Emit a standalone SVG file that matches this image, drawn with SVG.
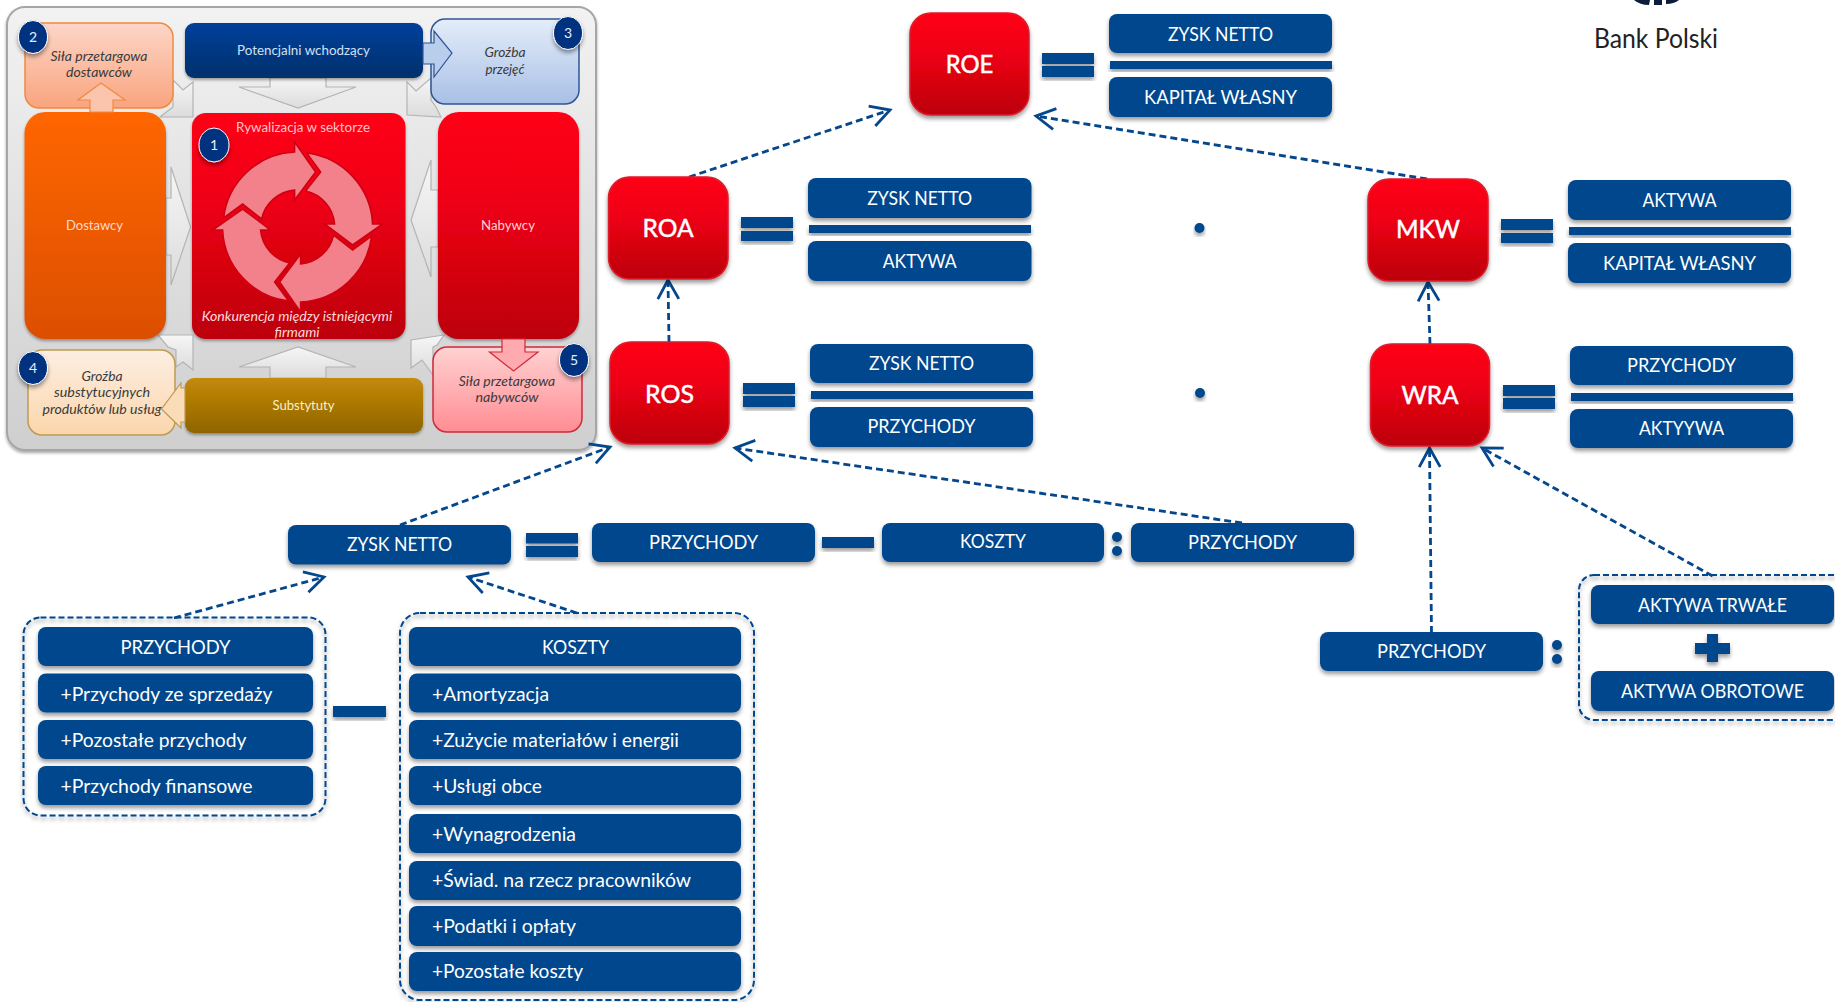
<svg xmlns="http://www.w3.org/2000/svg" width="1835" height="1002" viewBox="0 0 1835 1002">
<style>
text{font-family:"Lato","Liberation Sans",sans-serif;}
.b{fill:#04478d;filter:url(#sh);}
.bar{fill:#04478d;filter:url(#sh);}
.t{fill:#fff;font-size:20px;text-anchor:middle;}
.l{fill:#fff;font-size:20px;text-anchor:start;}
.k{fill:#fff;stroke:#fff;stroke-width:.5;font-size:25px;font-weight:400;text-anchor:middle;}
.r{fill:url(#red);stroke:#dc1c2c;stroke-width:1.5;filter:url(#sh);}
.c{fill:none;stroke:#04478d;stroke-width:2.8;stroke-dasharray:7 4;marker-end:url(#open);}
.g{fill:none;stroke:#04478d;stroke-width:2;stroke-dasharray:6 3;filter:url(#sh);}
.p{font-size:13.5px;text-anchor:middle;fill:#ffd9c8;}
.i{font-size:13.5px;text-anchor:middle;fill:#3a3a3a;font-style:italic;}
.ga{fill:url(#gray);stroke:#b4b4b4;stroke-width:1.2;}
.n{fill:#00307f;stroke:#fff;stroke-width:1;filter:url(#sh);}
.nt{fill:#e8eef8;font-size:14px;text-anchor:middle;}
.cy{fill:#f2818c;stroke:#d00012;stroke-width:1.6;}
.pb{filter:url(#sh2);}
#przychody-group,#koszty-group,#minus,#wra-denominator{transform:translateY(-1px);}
#ros-formula .t,#wra-formula .t,#zysk-row .t{transform:translateY(-1px);}
</style>
<defs>
<filter id="sh" x="-15%" y="-25%" width="130%" height="160%"><feDropShadow dx="0" dy="3" stdDeviation="2" flood-color="#000" flood-opacity=".4"/></filter>
<filter id="sh2" x="-10%" y="-10%" width="120%" height="120%"><feDropShadow dx="0" dy="2" stdDeviation="1.5" flood-color="#000" flood-opacity=".35"/></filter>
<linearGradient id="red" x1="0" y1="0" x2="0" y2="1"><stop offset="0" stop-color="#ff0617"/><stop offset=".4" stop-color="#ee0414"/><stop offset="1" stop-color="#bc000b"/></linearGradient>
<linearGradient id="or" x1="0" y1="0" x2="0" y2="1"><stop offset="0" stop-color="#ff6600"/><stop offset="1" stop-color="#dc4f00"/></linearGradient>
<linearGradient id="pan" x1="0" y1="0" x2="0" y2="1"><stop offset="0" stop-color="#f2f2f2"/><stop offset="1" stop-color="#cfcfcf"/></linearGradient>
<linearGradient id="gray" x1="0" y1="0" x2="0" y2="1"><stop offset="0" stop-color="#f6f6f6"/><stop offset="1" stop-color="#dcdcdc"/></linearGradient>
<linearGradient id="navy" x1="0" y1="0" x2="0" y2="1"><stop offset="0" stop-color="#00409c"/><stop offset="1" stop-color="#00306c"/></linearGradient>
<linearGradient id="gold" x1="0" y1="0" x2="0" y2="1"><stop offset="0" stop-color="#c48a08"/><stop offset="1" stop-color="#8f6400"/></linearGradient>
<linearGradient id="b2" x1="0" y1="0" x2="0" y2="1"><stop offset="0" stop-color="#fdd6c8"/><stop offset="1" stop-color="#f9a47e"/></linearGradient>
<linearGradient id="b3" x1="0" y1="0" x2="0" y2="1"><stop offset="0" stop-color="#e4edf9"/><stop offset="1" stop-color="#a8c0e6"/></linearGradient>
<linearGradient id="b4" x1="0" y1="0" x2="0" y2="1"><stop offset="0" stop-color="#fdeee2"/><stop offset="1" stop-color="#fbd6ac"/></linearGradient>
<linearGradient id="b5" x1="0" y1="0" x2="0" y2="1"><stop offset="0" stop-color="#ffd2d2"/><stop offset="1" stop-color="#ff8d94"/></linearGradient>
<marker id="open" markerUnits="userSpaceOnUse" viewBox="-24 -14 28 28" refX="0" refY="0" markerWidth="28" markerHeight="28" orient="auto"><path d="M-19,-10.5 L0,0 L-19,10.5" fill="none" stroke="#04478d" stroke-width="2.8"/></marker>
</defs>
<rect width="1835" height="1002" fill="#fff"/>

<g id="panel">
<rect x="7" y="7" width="589" height="443" rx="18" fill="url(#pan)" stroke="#a6a6a6" stroke-width="2" class="pb"/>
<g id="panel-arrows">
<polygon class="ga" points="270,78 326,78 326,87 356,87 298,108 239,87 270,87"/>
<polygon class="ga" points="270,378 326,378 326,367 356,367 298,347 239,367 270,367"/>
<polygon class="ga" points="166,198 171,198 171,167 190.6,227 171,285 171,255 166,255"/>
<polygon class="ga" points="438,190 431,190 431,160 411,220 431,277 431,247 438,247"/>
<polygon class="ga" points="193,82 193,117 160,117 173,107 173,80 183,90"/>
<polygon class="ga" points="407,82 416,91 431,78 431,100 436,107 441,117 407,115"/>
<polygon class="ga" points="158,335 193,335 193,370 183,362 176,367 176,350 168,347"/>
<polygon class="ga" points="444,335 411,340 411,368 422,360 433,375 433,347 437,345"/>
</g>
<g id="box2"><rect x="25" y="23" width="148" height="85" rx="14" fill="url(#b2)" stroke="#f08a40" stroke-width="1.5"/>
<text class="i" x="99" y="61" textLength="97" lengthAdjust="spacingAndGlyphs">Siła przetargowa</text><text class="i" x="99" y="77" textLength="66" lengthAdjust="spacingAndGlyphs">dostawców</text></g>
<g id="box3"><rect x="431" y="19" width="148" height="85" rx="14" fill="url(#b3)" stroke="#2f5596" stroke-width="1.5"/>
<text class="i" x="505" y="57" textLength="41" lengthAdjust="spacingAndGlyphs">Groźba</text><text class="i" x="505" y="74" textLength="39" lengthAdjust="spacingAndGlyphs">przejęć</text></g>
<g id="box4"><rect x="28" y="350" width="147" height="85" rx="14" fill="url(#b4)" stroke="#bf9a50" stroke-width="1.5"/>
<text class="i" x="102" y="381" textLength="41" lengthAdjust="spacingAndGlyphs">Groźba</text><text class="i" x="102" y="397" textLength="96" lengthAdjust="spacingAndGlyphs">substytucyjnych</text><text class="i" x="102" y="414" textLength="119" lengthAdjust="spacingAndGlyphs">produktów lub usług</text></g>
<g id="box5"><rect x="433" y="347" width="149" height="85" rx="14" fill="url(#b5)" stroke="#d02a3a" stroke-width="1.5"/>
<text class="i" x="507" y="386" textLength="96.5" lengthAdjust="spacingAndGlyphs">Siła przetargowa</text><text class="i" x="507" y="402" textLength="63" lengthAdjust="spacingAndGlyphs">nabywców</text></g>
<g id="potencjalni"><rect x="185" y="23" width="238" height="55" rx="9" fill="url(#navy)" class="pb"/>
<text class="p" style="fill:#cfe0f5" x="303.5" y="55" textLength="133" lengthAdjust="spacingAndGlyphs">Potencjalni wchodzący</text></g>
<polygon points="423,43 434,43 434,31 452,53 434,77 434,64 423,64" fill="#b9cdec" stroke="#2f5596" stroke-width="1.2"/>
<g id="dostawcy"><rect x="24.5" y="112" width="141.5" height="227" rx="21" fill="url(#or)" class="pb"/>
<text class="p" x="94.5" y="230" textLength="57" lengthAdjust="spacingAndGlyphs">Dostawcy</text></g>
<polygon points="90,112 90,100 78,100 101,83 125,100 113,100 113,112" fill="#fbc4ac" stroke="#f08a40" stroke-width="1.2"/>
<g id="rywalizacja"><rect x="192" y="113" width="213.5" height="226" rx="14" fill="url(#red)" class="pb"/>
<text class="p" style="fill:#ffc4c4" x="303" y="132" textLength="134" lengthAdjust="spacingAndGlyphs">Rywalizacja w sektorze</text>
<g transform="translate(297.6 227)">
<path id="cy1" class="cy" d="M-74,-9 A75,75 0 0 1 -3,-75 L-3,-85 L18,-55 L-3,-27 L-3,-37 A37,37 0 0 0 -36,-8 L-55,-23 Z"/>
<path class="cy" transform="rotate(90)" d="M-74,-9 A75,75 0 0 1 -3,-75 L-3,-85 L18,-55 L-3,-27 L-3,-37 A37,37 0 0 0 -36,-8 L-55,-23 Z"/>
<path class="cy" transform="rotate(180)" d="M-74,-9 A75,75 0 0 1 -3,-75 L-3,-85 L18,-55 L-3,-27 L-3,-37 A37,37 0 0 0 -36,-8 L-55,-23 Z"/>
<path class="cy" transform="rotate(270)" d="M-74,-9 A75,75 0 0 1 -3,-75 L-3,-85 L18,-55 L-3,-27 L-3,-37 A37,37 0 0 0 -36,-8 L-55,-23 Z"/>
</g>
<text class="p" style="fill:#ffd8d8;font-style:italic" x="297" y="321" textLength="190.6" lengthAdjust="spacingAndGlyphs">Konkurencja między istniejącymi</text>
<text class="p" style="fill:#ffd8d8;font-style:italic" x="297" y="337" textLength="45" lengthAdjust="spacingAndGlyphs">firmami</text></g>
<g id="nabywcy"><rect x="438" y="112" width="141" height="227" rx="21" fill="url(#red)" class="pb"/>
<text class="p" style="fill:#ffd0d0" x="508" y="230" textLength="54" lengthAdjust="spacingAndGlyphs">Nabywcy</text></g>
<polygon points="502,339 502,352 489.5,352 513.6,371 538,352 525,352 525,339" fill="#ffaaae" stroke="#d02a3a" stroke-width="1.2"/>
<g id="substytuty"><rect x="185" y="378" width="238" height="55" rx="9" fill="url(#gold)" class="pb"/>
<text class="p" style="fill:#fbeecb" x="303.5" y="410" textLength="62" lengthAdjust="spacingAndGlyphs">Substytuty</text></g>
<polygon points="185,388 181,388 181,383 161.5,409 181,428 181,422 185,422" fill="#fbdcb8" stroke="#bf9a50" stroke-width="1.2"/>
<g id="num1"><ellipse class="n" cx="214" cy="145" rx="15" ry="17"/><text class="nt" x="214" y="150">1</text></g>
<g id="num2"><ellipse class="n" cx="33" cy="37" rx="14.5" ry="16.5"/><text class="nt" x="33" y="42">2</text></g>
<g id="num3"><ellipse class="n" cx="568" cy="33" rx="14.5" ry="16.5"/><text class="nt" x="568" y="38">3</text></g>
<g id="num4"><ellipse class="n" cx="33" cy="368" rx="14.5" ry="16.5"/><text class="nt" x="33" y="373">4</text></g>
<g id="num5"><ellipse class="n" cx="574" cy="360" rx="14.5" ry="16.5"/><text class="nt" x="574" y="365">5</text></g>
</g>

<g id="logo"><path d="M1634,0 Q1640,5 1649,5 L1650,0 Z M1654,0 L1654,5 L1662,5 L1662,0 Z M1666,0 L1666,4 Q1674,4 1679,0 Z" fill="#0b1c3c"/>
<text x="1656" y="48" text-anchor="middle" font-size="26" fill="#222" textLength="124" lengthAdjust="spacingAndGlyphs">Bank Polski</text></g>

<g id="connectors">
<path class="c" d="M689,177 L890,110"/>
<path class="c" d="M1427,179 L1036,116"/>
<path class="c" d="M669,342 L668,280"/>
<path class="c" d="M1430,344 L1428,282"/>
<path class="c" d="M400,525 L610,447"/>
<path class="c" d="M1242,523 L735,448"/>
<path class="c" d="M174,618 L324,577"/>
<path class="c" d="M577,613 L468,577"/>
<path class="c" d="M1431.5,633 L1429.5,448"/>
<path class="c" d="M1712.6,576 L1482,448"/>
</g>

<g id="roe"><rect class="r" x="910" y="13" width="119" height="102" rx="21"/><text class="k" x="969.5" y="72.7" textLength="47.6" lengthAdjust="spacingAndGlyphs">ROE</text></g>
<g id="roe-formula">
<rect class="bar" x="1042" y="53" width="52" height="11"/><rect class="bar" x="1042" y="66" width="52" height="11"/>
<rect class="b" x="1109" y="14" width="223" height="39" rx="8"/><text class="t" x="1220.5" y="41" textLength="105" lengthAdjust="spacingAndGlyphs">ZYSK NETTO</text>
<rect class="bar" x="1110" y="61" width="222" height="8"/>
<rect class="b" x="1109" y="77" width="223" height="40" rx="8"/><text class="t" x="1220.5" y="104" textLength="153" lengthAdjust="spacingAndGlyphs">KAPITAŁ WŁASNY</text>
</g>
<g id="roa"><rect class="r" x="608.5" y="177" width="119.5" height="102" rx="21"/><text class="k" x="668" y="237" textLength="51" lengthAdjust="spacingAndGlyphs">ROA</text></g>
<g id="roa-formula">
<rect class="bar" x="741" y="217" width="52" height="11"/><rect class="bar" x="741" y="231" width="52" height="10"/>
<rect class="b" x="808" y="178" width="223.5" height="40" rx="8"/><text class="t" x="919.7" y="205" textLength="105" lengthAdjust="spacingAndGlyphs">ZYSK NETTO</text>
<rect class="bar" x="809" y="225" width="222" height="8"/>
<rect class="b" x="808" y="241" width="223.5" height="40" rx="8"/><text class="t" x="919.7" y="268" textLength="74" lengthAdjust="spacingAndGlyphs">AKTYWA</text>
</g>
<circle id="dot1" class="bar" cx="1199.5" cy="228" r="5"/>
<g id="ros"><rect class="r" x="610" y="342" width="119" height="102" rx="21"/><text class="k" x="669.5" y="403" textLength="49" lengthAdjust="spacingAndGlyphs">ROS</text></g>
<g id="ros-formula">
<rect class="bar" x="743" y="383" width="52" height="11"/><rect class="bar" x="743" y="396" width="52" height="11"/>
<rect class="b" x="810" y="344" width="223" height="39" rx="8"/><text class="t" x="921.5" y="371" textLength="105" lengthAdjust="spacingAndGlyphs">ZYSK NETTO</text>
<rect class="bar" x="811" y="391" width="222" height="8"/>
<rect class="b" x="810" y="407" width="223" height="40" rx="8"/><text class="t" x="921.5" y="434" textLength="108" lengthAdjust="spacingAndGlyphs">PRZYCHODY</text>
</g>
<circle id="dot2" class="bar" cx="1200" cy="393" r="5"/>
<g id="mkw"><rect class="r" x="1368" y="179" width="120" height="102" rx="21"/><text class="k" x="1428" y="238" textLength="64" lengthAdjust="spacingAndGlyphs">MKW</text></g>
<g id="mkw-formula">
<rect class="bar" x="1501" y="219" width="52" height="11"/><rect class="bar" x="1501" y="233" width="52" height="10"/>
<rect class="b" x="1568" y="180" width="223" height="40" rx="8"/><text class="t" x="1679.5" y="207" textLength="74" lengthAdjust="spacingAndGlyphs">AKTYWA</text>
<rect class="bar" x="1569" y="227" width="222" height="8"/>
<rect class="b" x="1568" y="243" width="223" height="40" rx="8"/><text class="t" x="1679.5" y="270" textLength="153" lengthAdjust="spacingAndGlyphs">KAPITAŁ WŁASNY</text>
</g>
<g id="wra"><rect class="r" x="1370.5" y="344" width="119" height="102" rx="21"/><text class="k" x="1430" y="404" textLength="57" lengthAdjust="spacingAndGlyphs">WRA</text></g>
<g id="wra-formula">
<rect class="bar" x="1503" y="385" width="52" height="11"/><rect class="bar" x="1503" y="398" width="52" height="11"/>
<rect class="b" x="1570" y="346" width="223" height="39" rx="8"/><text class="t" x="1681.5" y="373" textLength="109" lengthAdjust="spacingAndGlyphs">PRZYCHODY</text>
<rect class="bar" x="1571" y="393" width="222" height="8"/>
<rect class="b" x="1570" y="409" width="223" height="39" rx="8"/><text class="t" x="1681.5" y="436" textLength="85" lengthAdjust="spacingAndGlyphs">AKTYYWA</text>
</g>

<g id="zysk-row">
<rect class="b" x="288" y="525" width="223" height="39.5" rx="8"/><text class="t" x="399.5" y="552" textLength="105" lengthAdjust="spacingAndGlyphs">ZYSK NETTO</text>
<rect class="bar" x="526" y="533" width="52" height="10.5"/><rect class="bar" x="526" y="546" width="52" height="11"/>
<rect class="b" x="592" y="523" width="223" height="39" rx="8"/><text class="t" x="703.5" y="550" textLength="109" lengthAdjust="spacingAndGlyphs">PRZYCHODY</text>
<rect class="bar" x="822" y="537" width="52" height="11"/>
<rect class="b" x="882" y="523" width="222" height="39" rx="8"/><text class="t" x="993" y="549" textLength="66" lengthAdjust="spacingAndGlyphs">KOSZTY</text>
<circle class="bar" cx="1117" cy="537" r="5"/><circle class="bar" cx="1117" cy="551" r="5"/>
<rect class="b" x="1131" y="523" width="223" height="39" rx="8"/><text class="t" x="1242.5" y="550" textLength="109" lengthAdjust="spacingAndGlyphs">PRZYCHODY</text>
</g>

<g id="przychody-group">
<rect class="g" x="23.5" y="618.5" width="302" height="198" rx="17"/>
<rect class="b" x="38" y="628" width="275" height="39" rx="8"/><text class="t" x="175.5" y="655" textLength="110" lengthAdjust="spacingAndGlyphs">PRZYCHODY</text>
<rect class="b" x="38" y="674.5" width="275" height="39" rx="8"/><text class="l" x="60.5" y="702" textLength="212" lengthAdjust="spacingAndGlyphs">+Przychody ze sprzedaży</text>
<rect class="b" x="38" y="721" width="275" height="39" rx="8"/><text class="l" x="60.5" y="748" textLength="186" lengthAdjust="spacingAndGlyphs">+Pozostałe przychody</text>
<rect class="b" x="38" y="767" width="275" height="39" rx="8"/><text class="l" x="60.5" y="794" textLength="192" lengthAdjust="spacingAndGlyphs">+Przychody finansowe</text>
</g>
<rect id="minus" class="bar" x="333" y="707" width="53" height="11"/>
<g id="koszty-group">
<rect class="g" x="400" y="614" width="354" height="387" rx="20"/>
<rect class="b" x="409" y="628" width="332" height="39" rx="8"/><text class="t" x="575.5" y="655" textLength="67" lengthAdjust="spacingAndGlyphs">KOSZTY</text>
<rect class="b" x="409" y="674.5" width="332" height="39" rx="8"/><text class="l" x="432" y="702" textLength="117" lengthAdjust="spacingAndGlyphs">+Amortyzacja</text>
<rect class="b" x="409" y="721" width="332" height="39" rx="8"/><text class="l" x="432" y="748" textLength="247" lengthAdjust="spacingAndGlyphs">+Zużycie materiałów i energii</text>
<rect class="b" x="409" y="767" width="332" height="39" rx="8"/><text class="l" x="432" y="794" textLength="110" lengthAdjust="spacingAndGlyphs">+Usługi obce</text>
<rect class="b" x="409" y="815" width="332" height="39" rx="8"/><text class="l" x="432" y="842" textLength="144" lengthAdjust="spacingAndGlyphs">+Wynagrodzenia</text>
<rect class="b" x="409" y="862" width="332" height="39" rx="8"/><text class="l" x="432" y="888" textLength="259" lengthAdjust="spacingAndGlyphs">+Świad. na rzecz pracowników</text>
<rect class="b" x="409" y="907" width="332" height="40" rx="8"/><text class="l" x="432" y="934" textLength="144" lengthAdjust="spacingAndGlyphs">+Podatki i opłaty</text>
<rect class="b" x="409" y="953" width="332" height="39" rx="8"/><text class="l" x="432" y="979" textLength="151" lengthAdjust="spacingAndGlyphs">+Pozostałe koszty</text>
</g>

<g id="wra-denominator">
<rect class="b" x="1320" y="633" width="223" height="39" rx="8"/><text class="t" x="1431.5" y="659" textLength="109" lengthAdjust="spacingAndGlyphs">PRZYCHODY</text>
<circle class="bar" cx="1557" cy="646" r="5"/><circle class="bar" cx="1557" cy="660" r="5"/>
<rect class="g" x="1579" y="576" width="280" height="145" rx="15"/>
<rect class="b" x="1591" y="586" width="243" height="39" rx="8"/><text class="t" x="1712.5" y="613" textLength="149" lengthAdjust="spacingAndGlyphs">AKTYWA TRWAŁE</text>
<path class="bar" d="M1707,635 H1718 V644 H1730 V655 H1718 V663 H1707 V655 H1695 V644 H1707 Z"/>
<rect class="b" x="1591" y="672" width="243" height="40" rx="8"/><text class="t" x="1712.5" y="699" textLength="183" lengthAdjust="spacingAndGlyphs">AKTYWA OBROTOWE</text>
</g>
</svg>
